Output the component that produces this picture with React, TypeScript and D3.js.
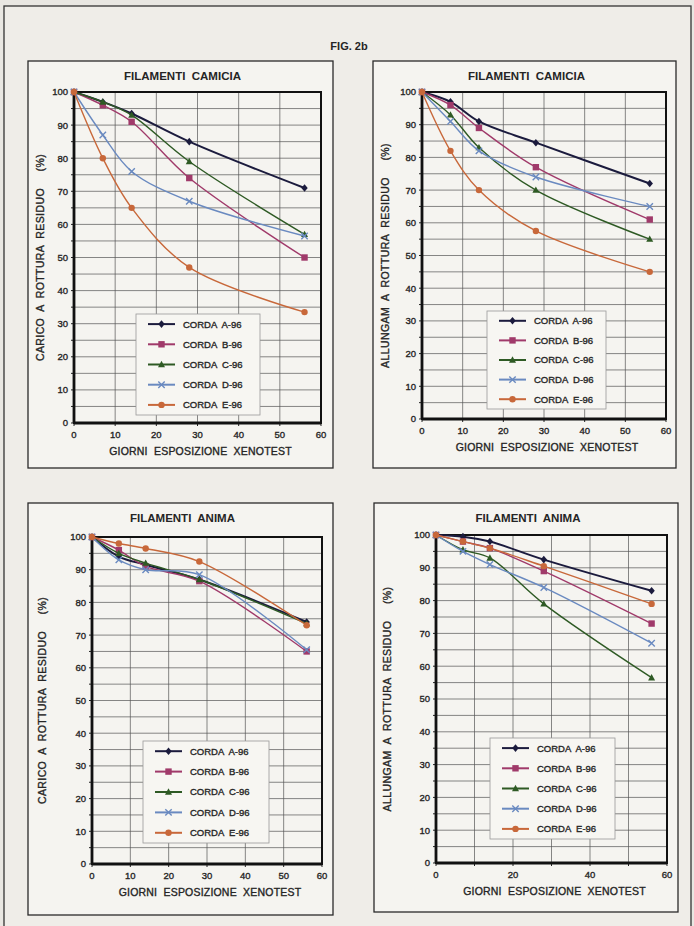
import React from 'react';
import * as d3 from 'd3';

// days of exposure (x values), same for every series
const days = [0, 7, 14, 28, 56];
const seriesNames = ['CORDA  A-96', 'CORDA  B-96', 'CORDA  C-96', 'CORDA  D-96', 'CORDA  E-96'];

// residual breaking load, jacket filaments (A..E)
const caricoCamicia = [
  [100, 97, 93.5, 85, 71],
  [100, 96, 91, 74, 50],
  [100, 97, 93, 79, 57],
  [100, 87, 76, 67, 56.5],
  [100, 80, 65, 47, 33.5],
];
// residual elongation, jacket filaments
const allungamCamicia = [
  [100, 97, 91, 84.5, 72],
  [100, 96, 89, 77, 61],
  [100, 93, 83, 70, 55],
  [100, 91, 82, 74, 65],
  [100, 82, 70, 57.5, 45],
];
// residual breaking load, core filaments
const caricoAnima = [
  [100, 94, 91.5, 87, 74],
  [100, 96, 91, 86.5, 65],
  [100, 95, 92, 87, 73.5],
  [100, 93, 90, 88.5, 65.5],
  [100, 98, 96.5, 92.5, 73],
];
// residual elongation, core filaments
const allungamAnima = [
  [100, 99.5, 98, 92.5, 83],
  [100, 98, 96, 89, 73],
  [100, 95.5, 93, 79, 56.5],
  [100, 95, 91, 84, 67],
  [100, 98, 96, 90.5, 79],
];

const yTicks = [0, 10, 20, 30, 40, 50, 60, 70, 80, 90, 100];
const xTicksFine = [0, 10, 20, 30, 40, 50, 60];
const xTicksCoarse = [0, 20, 40, 60];

const colors = ['#1b1b3d', '#a03a6a', '#2e5a24', '#6a8ac0', '#c8683a'];
const markers = ['diamond', 'square', 'triangle', 'cross', 'circle'];
const FONT = '"Liberation Sans", Arial, sans-serif';
const INK = '#252525';

const panels = [
  {
    data: caricoCamicia, title: 'FILAMENTI  CAMICIA', ylabel: 'CARICO  A  ROTTURA  RESIDUO     (%)',
    box: [28, 61, 333, 468], plot: [74, 92, 321, 423], xticks: xTicksFine, ylabX: 44,
    legend: [136, 314, 260, 415],
  },
  {
    data: allungamCamicia, title: 'FILAMENTI  CAMICIA', ylabel: 'ALLUNGAM  A  ROTTURA  RESIDUO     (%)',
    box: [373, 61, 676, 468], plot: [422, 92, 666, 419], xticks: xTicksFine, ylabX: 389,
    legend: [487, 311, 606, 409],
  },
  {
    data: caricoAnima, title: 'FILAMENTI  ANIMA', ylabel: 'CARICO  A  ROTTURA  RESIDUO     (%)',
    box: [28, 503, 333, 915], plot: [92, 537, 322, 864], xticks: xTicksFine, ylabX: 46,
    legend: [143, 741, 269, 843],
  },
  {
    data: allungamAnima, title: 'FILAMENTI  ANIMA', ylabel: 'ALLUNGAM  A  ROTTURA  RESIDUO     (%)',
    box: [374, 503, 678, 912], plot: [436, 535, 667, 863], xticks: xTicksCoarse, ylabX: 391,
    legend: [490, 738, 615, 839],
  },
];

function Marker({ type, x, y, color }) {
  const s = 3.2;
  if (type === 'diamond')
    return <path d={`M${x},${y - s - 0.6}L${x + s},${y}L${x},${y + s + 0.6}L${x - s},${y}Z`} fill={color} />;
  if (type === 'square')
    return <rect x={x - s} y={y - s} width={s * 2} height={s * 2} fill={color} />;
  if (type === 'triangle')
    return <path d={`M${x},${y - s - 0.5}L${x + s + 0.3},${y + s - 0.5}L${x - s - 0.3},${y + s - 0.5}Z`} fill={color} />;
  if (type === 'cross')
    return (
      <path d={`M${x - s},${y - s}L${x + s},${y + s}M${x + s},${y - s}L${x - s},${y + s}`}
        stroke={color} strokeWidth={1.4} fill="none" />
    );
  return <circle cx={x} cy={y} r={s} fill={color} />;
}

// scanned text looks heavier than plain regular weight
const heavy = { fill: INK, stroke: INK, strokeWidth: 0.35, style: { whiteSpace: 'pre' as const } };

function Panel({ p }) {
  const [x0, y0, x1, y1] = p.plot;
  const x = d3.scaleLinear().domain([0, 60]).range([x0, x1]);
  const y = d3.scaleLinear().domain([0, 100]).range([y1, y0]);
  const line = d3.line<number>()
    .x((_, i) => x(days[i]))
    .y((d) => y(d))
    .curve(d3.curveCatmullRom.alpha(0.5));
  const [bx0, by0, bx1, by1] = p.box;
  const [lx0, ly0, lx1, ly1] = p.legend;
  const rowH = (ly1 - ly0) / 5;
  return (
    <g fontFamily={FONT}>
      <rect x={bx0} y={by0} width={bx1 - bx0} height={by1 - by0} fill="#f5f4f0" stroke="#2a2a2a" strokeWidth={1.3} />
      <text x={(bx0 + bx1) / 2 + 2} y={by0 + 19} textAnchor="middle" fontSize={11.5} fontWeight="bold"
        fill={INK} style={{ whiteSpace: 'pre' }}>
        {p.title}
      </text>
      {/* grid */}
      {d3.range(5, 100, 5).map((v) => (
        <line key={'h' + v} x1={x0} x2={x1} y1={y(v)} y2={y(v)} stroke="#555" strokeWidth={0.7} />
      ))}
      {d3.range(10, 60, 10).map((v) => (
        <line key={'v' + v} x1={x(v)} x2={x(v)} y1={y0} y2={y1} stroke="#555" strokeWidth={0.7} />
      ))}
      {/* ticks */}
      {d3.range(0, 101, 5).map((v) => (
        <line key={'yt' + v} x1={x0 - 3} x2={x0} y1={y(v)} y2={y(v)} stroke="#222" strokeWidth={1} />
      ))}
      {xTicksFine.map((v) => (
        <line key={'xt' + v} x1={x(v)} x2={x(v)} y1={y1} y2={y1 + 3} stroke="#222" strokeWidth={1} />
      ))}
      <rect x={x0} y={y0} width={x1 - x0} height={y1 - y0} fill="none" stroke="#111" strokeWidth={2} />
      <line x1={x0} x2={x0} y1={y0} y2={y1} stroke="#111" strokeWidth={2.8} />
      <line x1={x0} x2={x1} y1={y1} y2={y1} stroke="#111" strokeWidth={2.8} />
      {yTicks.map((v) => (
        <text key={'yl' + v} x={x0 - 6} y={y(v) + 3.4} textAnchor="end" fontSize={9.5} {...heavy}>
          {v}
        </text>
      ))}
      {p.xticks.map((v) => (
        <text key={'xl' + v} x={x(v)} y={y1 + 15} textAnchor="middle" fontSize={9.5} {...heavy}>
          {v}
        </text>
      ))}
      <text x={(x0 + x1) / 2 + 3} y={y1 + 32} textAnchor="middle" fontSize={10.5} letterSpacing={0.2} {...heavy}>
        {'GIORNI  ESPOSIZIONE  XENOTEST'}
      </text>
      <text
        transform={`translate(${p.ylabX},${(y0 + y1) / 2}) rotate(-90)`}
        textAnchor="middle" fontSize={10.5} letterSpacing={0.4} {...heavy}
      >
        {p.ylabel}
      </text>
      {/* series */}
      {p.data.map((vals, i) => (
        <g key={'s' + i}>
          <path d={line(vals)} fill="none" stroke={colors[i]} strokeWidth={i === 0 ? 2 : 1.4} />
          {vals.map((v, j) => (
            <Marker key={j} type={markers[i]} x={x(days[j])} y={y(v)} color={colors[i]} />
          ))}
        </g>
      ))}
      {/* legend */}
      <rect x={lx0} y={ly0} width={lx1 - lx0} height={ly1 - ly0} fill="#f7f6f2" stroke="#999" strokeWidth={0.8} />
      {seriesNames.map((name, i) => {
        const cy = ly0 + rowH * (i + 0.5);
        return (
          <g key={'l' + i}>
            <line x1={lx0 + 12} x2={lx0 + 39} y1={cy} y2={cy} stroke={colors[i]} strokeWidth={2} />
            <Marker type={markers[i]} x={lx0 + 25.5} y={cy} color={colors[i]} />
            <text x={lx0 + 47} y={cy + 3.4} fontSize={9.5} {...heavy}>
              {name}
            </text>
          </g>
        );
      })}
    </g>
  );
}

export default function App() {
  return (
    <svg width={694} height={926} style={{ position: 'absolute', left: 0, top: 0, background: '#e9e7e2' }}>
      <rect x={4} y={6} width={687} height={940} fill="#efede8" stroke="#333" strokeWidth={1.3} />
      <text x={349} y={50} textAnchor="middle" fontSize={11} fontWeight="bold" fontFamily={FONT} fill={INK}>
        FIG. 2b
      </text>
      {panels.map((p, i) => (
        <Panel key={i} p={p} />
      ))}
    </svg>
  );
}
